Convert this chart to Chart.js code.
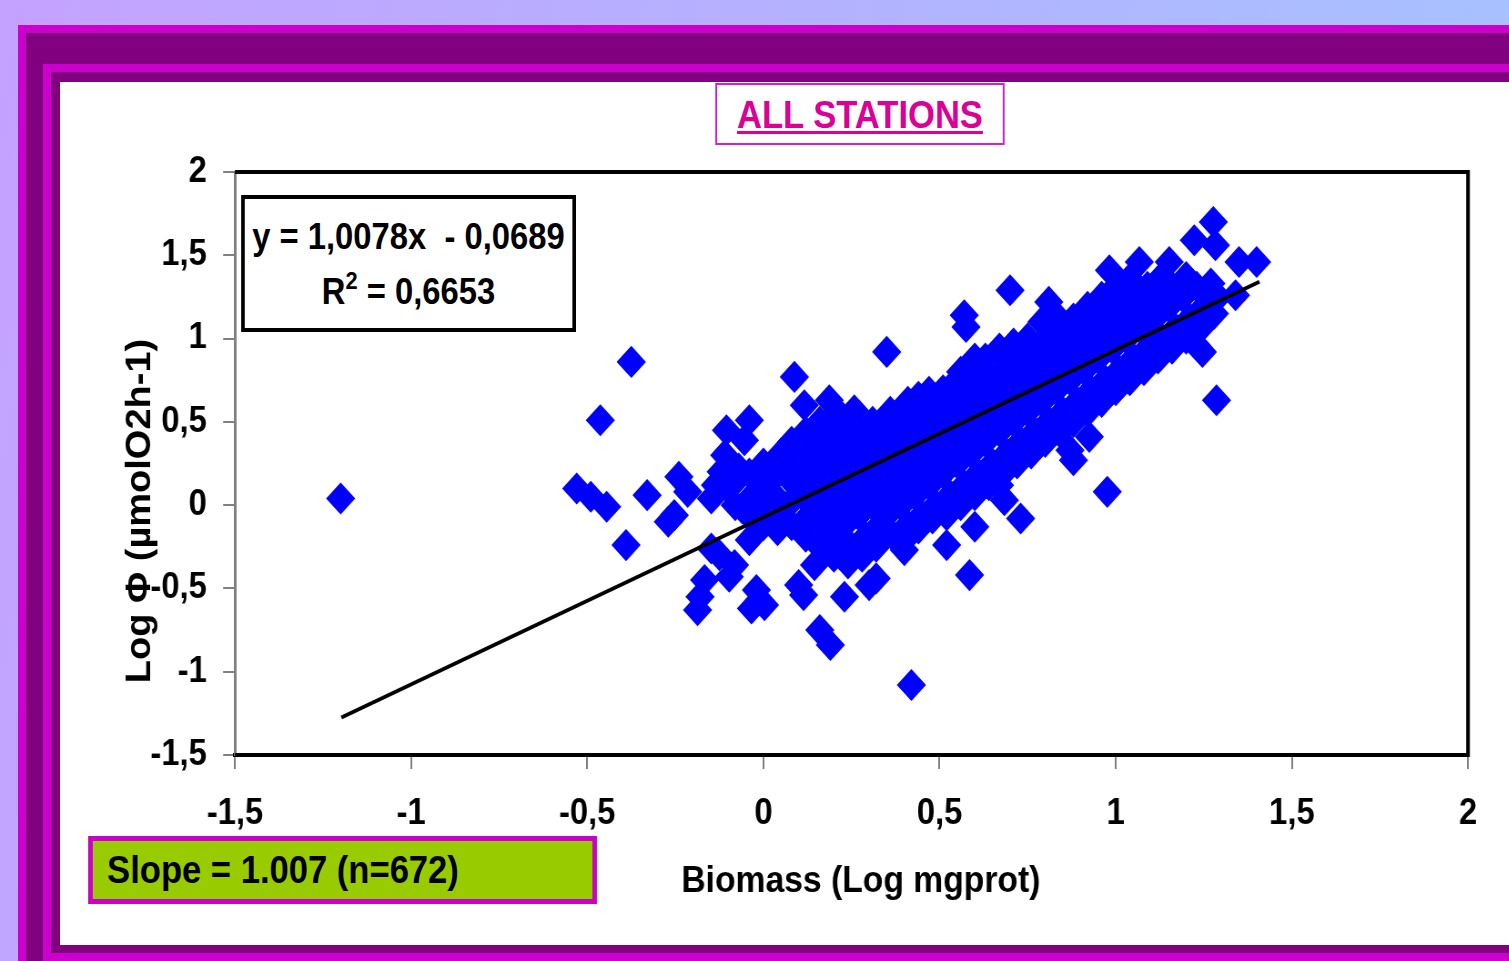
<!DOCTYPE html>
<html>
<head>
<meta charset="utf-8">
<script src="https://cdn.jsdelivr.net/npm/chart.js@4.4.1/dist/chart.umd.min.js"></script>
<style>
html,body{margin:0;padding:0;width:1509px;height:961px;overflow:hidden;}
body{position:relative;background:linear-gradient(100deg,#c4a2ff 0%,#b3b2ff 50%,#a5c4ff 100%);font-family:"Liberation Sans",Arial,sans-serif;}
.f{position:absolute;box-sizing:border-box;}
#outer{left:18px;top:25px;right:0;bottom:0;background:#800080;border-left:8px solid #cc00cc;border-top:8px solid #cc00cc;}
#inner{left:43px;top:64px;right:0;bottom:0;background:#800080;border-left:8px solid #cc00cc;border-top:8px solid #cc00cc;border-bottom:8px solid #cc00cc;}
#paper{left:60px;top:82px;width:1449px;height:863px;background:#fff;}
#stage{position:absolute;left:0;top:0;width:1658px;height:961px;transform:scaleX(0.91);transform-origin:0 0;}
#chart{position:absolute;left:0;top:0;}
.box{position:absolute;box-sizing:border-box;font-weight:bold;font-size:36px;color:#000;white-space:pre;}
#titleBox{left:785.7px;top:83px;width:318.7px;height:62px;border:2px solid #d020d0;background:#fff;text-align:center;font-size:38px;line-height:60px;color:#dc0096;text-decoration:underline;text-decoration-thickness:3px;text-underline-offset:3px;}
#eqBox{left:264.8px;top:195px;width:368.1px;height:137px;border:4px solid #000;background:#fff;text-align:center;padding-top:10px;line-height:55px;}
#eqBox sup{font-size:24px;line-height:0;position:relative;top:-2px;}
#slopeBox{left:96.7px;top:836px;width:559.3px;height:68px;border:5px solid #cc00cc;background:#99cc00;font-size:38px;line-height:58px;padding-left:16px;}
</style>
</head>
<body>
<div class="f" id="outer"></div>
<div class="f" id="inner"></div>
<div class="f" id="paper"></div>
<div id="stage">
  <canvas id="chart" width="1658" height="961" style="width:1658px;height:961px"></canvas>
  <div class="box" id="titleBox">ALL STATIONS</div>
  <div class="box" id="eqBox">y = 1,0078x  - 0,0689<br>R<sup>2</sup> = 0,6653</div>
  <div class="box" id="slopeBox">Slope = 1.007 (n=672)</div>
</div>
<script>
// ---- data (Log biomass, Log respiration) ----
const outlierBiomass = [
  -1.20, -0.375, -0.463, -0.53, -0.49, -0.445, -0.39, -0.33, -0.27, -0.24,
  -0.215, -0.253, -0.187, -0.18, -0.167, -0.148, -0.125, -0.097, -0.082, -0.034,
  -0.011, -0.02, 0.003, -0.04, -0.011, -0.136, -0.148, -0.105, -0.11, -0.04,
  -0.054, 0.088, 0.116, 0.187, 0.258, 0.114, 0.10, 0.16, 0.19, 0.145,
  0.23, 0.30, 0.32, 0.42, 0.35, 0.40, 0.52, 0.585, 0.60, 0.67,
  0.73, 0.684, 0.88, 0.87, 0.925, 0.976, 1.286, 0.57, 0.575, 0.70,
  1.277, 1.223, 1.283, 1.40, 1.35, 1.34, 1.246, 1.229, 0.982, 1.067,
  1.152, 0.81, -0.10, -0.07, -0.06, -0.12
];
const outlierPhi = [
  0.04, 0.86, 0.51, 0.10, 0.05, -0.01, -0.24, 0.06, -0.10, 0.17,
  0.08, -0.06, -0.63, -0.55, -0.45, -0.26, -0.30, -0.43, -0.36, -0.62,
  -0.57, -0.51, -0.60, -0.21, -0.12, 0.12, 0.04, 0.45, 0.30, 0.51,
  0.39, 0.77, 0.60, 0.63, 0.57, -0.54, -0.48, -0.75, -0.84, -0.36,
  -0.55, -0.48, -0.44, -1.08, 0.92, -0.27, -0.24, -0.42, -0.13, 0.12,
  -0.08, 0.03, 0.27, 0.33, 0.41, 0.08, 0.63, 1.14, 1.07, 1.29,
  1.70, 1.59, 1.56, 1.46, 1.46, 1.26, 0.92, 0.96, 1.41, 1.46,
  1.46, 1.22, 0.10, 0.22, -0.02, 0.20
];
const clusterBiomass = [
  -0.08, -0.09,
  -0.04, -0.03, -0.04,
  0.00, 0.01, -0.01, 0.00,
  0.04, 0.05, 0.03, 0.04, 0.05,
  0.08, 0.07, 0.09, 0.08, 0.08,
  0.12, 0.13, 0.11, 0.12, 0.13, 0.12,
  0.16, 0.17, 0.15, 0.16, 0.17, 0.16, 0.16,
  0.20, 0.21, 0.19, 0.20, 0.21, 0.20, 0.19, 0.21,
  0.24, 0.25, 0.23, 0.24, 0.25, 0.24, 0.23, 0.24,
  0.28, 0.29, 0.27, 0.28, 0.29, 0.28, 0.28,
  0.32, 0.33, 0.31, 0.32, 0.33, 0.32, 0.31,
  0.37, 0.35, 0.36, 0.37, 0.36, 0.35, 0.36,
  0.40, 0.41, 0.39, 0.40, 0.41, 0.40, 0.40, 0.41,
  0.44, 0.45, 0.43, 0.44, 0.45, 0.44, 0.43, 0.44,
  0.48, 0.49, 0.47, 0.48, 0.49, 0.48, 0.48, 0.47,
  0.52, 0.53, 0.51, 0.52, 0.53, 0.52, 0.51,
  0.56, 0.57, 0.55, 0.56, 0.57, 0.56, 0.55, 0.56,
  0.60, 0.61, 0.59, 0.60, 0.61, 0.60, 0.59, 0.60,
  0.64, 0.65, 0.63, 0.64, 0.65, 0.64, 0.63,
  0.68, 0.69, 0.67, 0.68, 0.69, 0.68, 0.67,
  0.72, 0.73, 0.71, 0.72, 0.73, 0.72, 0.71,
  0.76, 0.77, 0.75, 0.76, 0.77, 0.76, 0.75,
  0.80, 0.81, 0.79, 0.80, 0.81, 0.80, 0.79,
  0.84, 0.85, 0.83, 0.84, 0.85, 0.84, 0.83,
  0.88, 0.89, 0.87, 0.88, 0.89, 0.88,
  0.92, 0.93, 0.91, 0.92, 0.93, 0.92,
  0.96, 0.97, 0.95, 0.96, 0.97, 0.96,
  1.00, 1.01, 0.99, 1.00, 1.01, 1.00,
  1.04, 1.05, 1.03, 1.04, 1.05, 1.04,
  1.08, 1.09, 1.07, 1.08, 1.09,
  1.12, 1.13, 1.11, 1.12, 1.13,
  1.16, 1.17, 1.15, 1.16,
  1.20, 1.21, 1.19, 1.20,
  1.24, 1.25, 1.23,
  1.28, 1.29, 1.27
];
const clusterPhi = [
  0.00, 0.12,
  -0.06, 0.06, 0.19,
  -0.12, 0.00, 0.12, 0.25,
  -0.15, -0.06, 0.06, 0.19, 0.31,
  -0.12, 0.00, 0.12, 0.25, 0.38,
  -0.19, -0.06, 0.06, 0.19, 0.31, 0.44,
  -0.25, -0.12, 0.00, 0.12, 0.25, 0.38, 0.50,
  -0.31, -0.19, -0.06, 0.06, 0.19, 0.31, 0.44, 0.56,
  -0.35, -0.25, -0.12, 0.00, 0.12, 0.25, 0.38, 0.50,
  -0.31, -0.19, -0.06, 0.06, 0.19, 0.31, 0.44,
  -0.25, -0.12, 0.00, 0.12, 0.25, 0.38, 0.50,
  -0.19, -0.06, 0.06, 0.19, 0.31, 0.44, 0.56,
  -0.21, -0.12, 0.00, 0.12, 0.25, 0.38, 0.50, 0.62,
  -0.14, -0.06, 0.06, 0.19, 0.31, 0.44, 0.56, 0.65,
  -0.08, 0.00, 0.12, 0.25, 0.38, 0.50, 0.62, 0.68,
  -0.06, 0.06, 0.19, 0.31, 0.44, 0.56, 0.69,
  0.00, 0.12, 0.25, 0.38, 0.50, 0.62, 0.75, 0.80,
  0.06, 0.19, 0.31, 0.44, 0.56, 0.69, 0.81, 0.88,
  0.12, 0.25, 0.38, 0.50, 0.62, 0.75, 0.88,
  0.19, 0.31, 0.44, 0.56, 0.69, 0.81, 0.94,
  0.25, 0.38, 0.50, 0.62, 0.75, 0.88, 0.97,
  0.31, 0.44, 0.56, 0.69, 0.81, 0.94, 1.00,
  0.38, 0.50, 0.62, 0.75, 0.88, 1.00, 1.10,
  0.44, 0.56, 0.69, 0.81, 0.94, 1.06, 1.14,
  0.50, 0.62, 0.75, 0.88, 1.00, 1.12,
  0.56, 0.69, 0.81, 0.94, 1.06, 1.19,
  0.62, 0.75, 0.88, 1.00, 1.12, 1.25,
  0.69, 0.81, 0.94, 1.06, 1.19, 1.31,
  0.75, 0.88, 1.00, 1.12, 1.25, 1.36,
  0.81, 0.94, 1.06, 1.19, 1.31,
  0.88, 1.00, 1.12, 1.25, 1.37,
  0.94, 1.06, 1.19, 1.31,
  1.00, 1.12, 1.25, 1.37,
  1.06, 1.19, 1.31,
  1.15, 1.25, 1.33
];
// trend line end points
const trendBiomass = [-1.198, 1.408];
const trendPhi = [-1.275, 1.341];
// axis ticks
const xTickValues = [-1.5, -1, -0.5, 0, 0.5, 1, 1.5, 2];
const xTickLabels = ['-1,5', '-1', '-0,5', '0', '0,5', '1', '1,5', '2'];
const yTickValues = [-1.5, -1, -0.5, 0, 0.5, 1, 1.5, 2];
const yTickLabels = ['-1,5', '-1', '-0,5', '0', '0,5', '1', '1,5', '2'];
const xTitle = 'Biomass (Log mgprot)';
const yTitle = 'Log \u03A6 (\u00B5molO2h-1)';

function pairs(xs, ys) {
  const out = [];
  const n = Math.min(xs.length, ys.length);
  for (let i = 0; i < n; i++) out.push({x: xs[i], y: ys[i]});
  return out;
}
const scatterPoints = pairs(outlierBiomass, outlierPhi).concat(pairs(clusterBiomass, clusterPhi));
const trendPoints = pairs(trendBiomass, trendPhi);

function labelFor(values, labels) {
  return v => {
    const i = values.findIndex(t => Math.abs(t - v) < 1e-9);
    return i >= 0 ? labels[i] : '';
  };
}

const plotFrame = {
  id: 'plotFrame',
  beforeDatasetsDraw(chart) {
    const {ctx, chartArea: a} = chart;
    ctx.save();
    ctx.strokeStyle = '#000';
    ctx.lineWidth = 4;
    ctx.beginPath();
    ctx.moveTo(a.left, a.top);
    ctx.lineTo(a.right, a.top);
    ctx.lineTo(a.right, a.bottom);
    ctx.lineTo(a.left, a.bottom);
    ctx.stroke();
    ctx.restore();
  }
};

Chart.defaults.font.family = '"Liberation Sans", Arial, sans-serif';
Chart.defaults.font.weight = 'bold';
Chart.defaults.font.size = 36;
Chart.defaults.color = '#000';

new Chart(document.getElementById('chart'), {
  type: 'scatter',
  data: {
    datasets: [
      {
        label: 'Trend',
        data: trendPoints,
        showLine: true,
        borderColor: '#000',
        borderWidth: 4,
        pointRadius: 0,
        fill: false,
        order: 0
      },
      {
        label: 'All stations',
        data: scatterPoints,
        pointStyle: 'rectRot',
        pointRadius: 15,
        pointBackgroundColor: '#0000ff',
        pointBorderColor: '#0000ff',
        pointBorderWidth: 1.5,
        order: 1
      }
    ]
  },
  options: {
    responsive: false,
    animation: false,
    devicePixelRatio: 1,
    events: [],
    layout: {padding: {left: 108.2, right: 44.8, top: 172, bottom: 46}},
    plugins: {legend: {display: false}, tooltip: {enabled: false}, title: {display: false}},
    scales: {
      x: {
        type: 'linear',
        min: -1.5, max: 2,
        afterBuildTicks: s => { s.ticks = xTickValues.map(v => ({value: v})); },
        afterFit: s => { s.height = 160; },
        ticks: {callback: labelFor(xTickValues, xTickLabels), padding: 23, maxRotation: 0, autoSkip: false, color: '#000'},
        grid: {drawOnChartArea: false, drawTicks: true, tickLength: 14, color: '#808080', lineWidth: 2},
        border: {display: true, color: '#000', width: 4},
        title: {display: true, text: '  ' + xTitle, color: '#000', padding: {top: 0, bottom: 10.8}, font: {size: 37, weight: 'bold'}}
      },
      y: {
        type: 'linear',
        min: -1.5, max: 2,
        afterBuildTicks: s => { s.ticks = yTickValues.map(v => ({value: v})); },
        afterFit: s => { s.width = 150; },
        ticks: {callback: labelFor(yTickValues, yTickLabels), padding: 18, autoSkip: false, color: '#000'},
        grid: {drawOnChartArea: false, drawTicks: true, tickLength: 13, color: '#808080', lineWidth: 2},
        border: {display: true, color: '#808080', width: 3},
        title: {display: true, text: yTitle + '         ', color: '#000', padding: {top: 24, bottom: 0}, font: {size: 38, weight: 'bold'}}
      }
    }
  },
  plugins: [plotFrame]
});
</script>
</body>
</html>
